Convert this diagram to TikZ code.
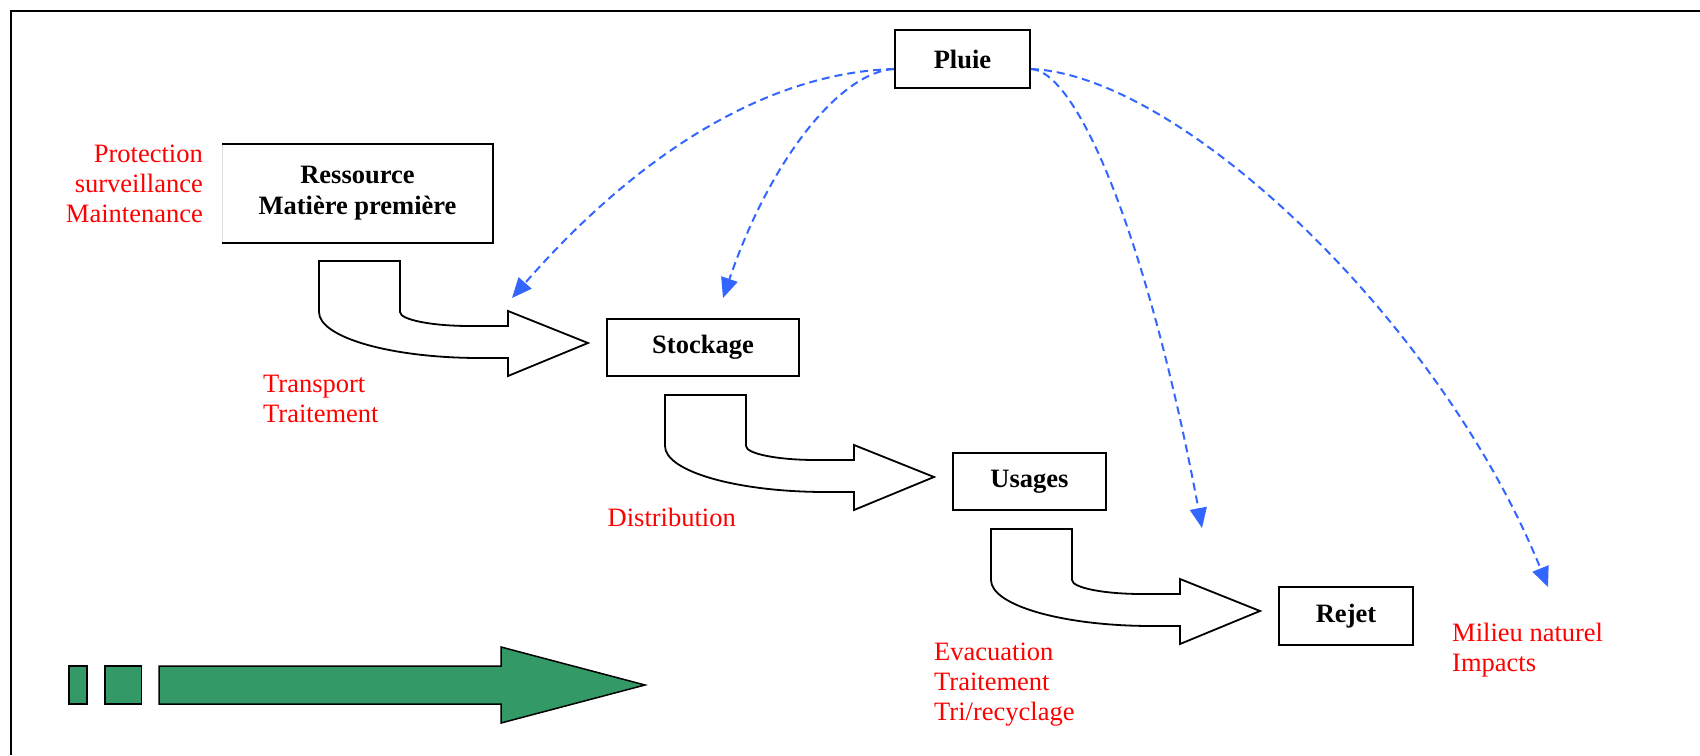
\documentclass[tikz,border=0pt]{standalone}
\usepackage{fontspec}
\setmainfont{Liberation Serif}
\usetikzlibrary{arrows.meta}
\definecolor{rainblue}{HTML}{3366FF}
\definecolor{arrowgreen}{HTML}{339966}
\tikzset{
  box/.style={draw=black, line width=2pt, font=\fontsize{26.5}{31}\selectfont\bfseries, inner sep=0pt, align=center},
  lbl/.style={text=red, font=\fontsize{26.5}{30}\selectfont, inner sep=0pt},
  rain/.style={draw=rainblue, line width=2pt, dash pattern=on 8pt off 5pt, -{Triangle[length=20pt,width=17pt]}},
  blockarrow/.style={draw=black, line width=1.8pt, fill=white, line join=miter},
  greenarrow/.style={draw=black, line width=1.5pt, fill=arrowgreen},
  pics/bentarrow/.style={code={
    \draw[blockarrow] (0,0) -- (81,0) -- (81,51) .. controls (81,58.7) and (112.4,65) .. (151,65) -- (189,65) -- (189,50) -- (269,82) -- (189,115) -- (189,97) -- (161,97) .. controls (72,97) and (0,76.4) .. (0,51) -- cycle;
  }}
}
\begin{document}
\begin{tikzpicture}[x=1pt,y=-1pt]
\useasboundingbox (0,0) rectangle (1700,755);
\fill[white] (0,0) rectangle (1700,755);
\draw[line width=2pt] (11,755) -- (11,11) -- (1700,11);

% boxes
\node[box, minimum width=135pt, minimum height=58pt] (pluie) at (962.5,59) {Pluie};
\node[box, draw=none, minimum width=269pt, minimum height=97pt] (res) at (357.5,193.5) {Ressource\\Matière première};
\draw[gray!25, line width=1pt] (res.south west) -- (res.north west);
\draw[line width=2pt] (res.north west) -- (res.north east) -- (res.south east) -- (res.south west);
\node[box, minimum width=192pt, minimum height=57pt] (stock) at (703,347.5) {Stockage};
\node[box, minimum width=153pt, minimum height=57pt] (usages) at (1029.5,481.5) {Usages};
\node[box, minimum width=134pt, minimum height=58pt] (rejet) at (1346,616) {Rejet};

% block arrows
\pic at (319,261) {bentarrow};
\pic at (665,395) {bentarrow};
\pic at (991,529) {bentarrow};

% green arrow
\draw[greenarrow] (69,666) rectangle (87,704);
\draw[greenarrow] (105,666) rectangle (141.5,704);
\draw[greenarrow] (159,666) -- (501,666) -- (501,647) -- (645,685) -- (501,723) -- (501,704) -- (159,704) -- cycle;

% rain arrows
\coordinate (t1) at (512,298);
\coordinate (t2) at (723,298);
\coordinate (t3) at (1202,528);
\coordinate (t4) at (1548,587);
\draw[rain] ([yshift=-10pt]pluie.west) .. controls (780,72) and (650,140) .. (t1);
\draw[rain] ([yshift=-10pt]pluie.west) .. controls (840,72) and (770,160) .. (t2);
\draw[rain] ([yshift=-10pt]pluie.east) .. controls (1080,72) and (1150,250) .. (t3);
\draw[rain] ([yshift=-10pt]pluie.east) .. controls (1180,75) and (1440,320) .. (t4);

% red labels (base = baseline of last line)
\node[lbl, anchor=base east, align=right] (prot) at (203,222) {Protection\\surveillance\\Maintenance};
\node[lbl, anchor=base west, align=left] (transp) at (263,422) {Transport\\Traitement};
\node[lbl, anchor=base west] (distr) at (607.5,526) {Distribution};
\node[lbl, anchor=base west, align=left] (evac) at (934,720) {Evacuation\\Traitement\\Tri/recyclage};
\node[lbl, anchor=base west, align=left] (milieu) at (1452,671) {Milieu naturel\\Impacts};
\end{tikzpicture}
\end{document}
